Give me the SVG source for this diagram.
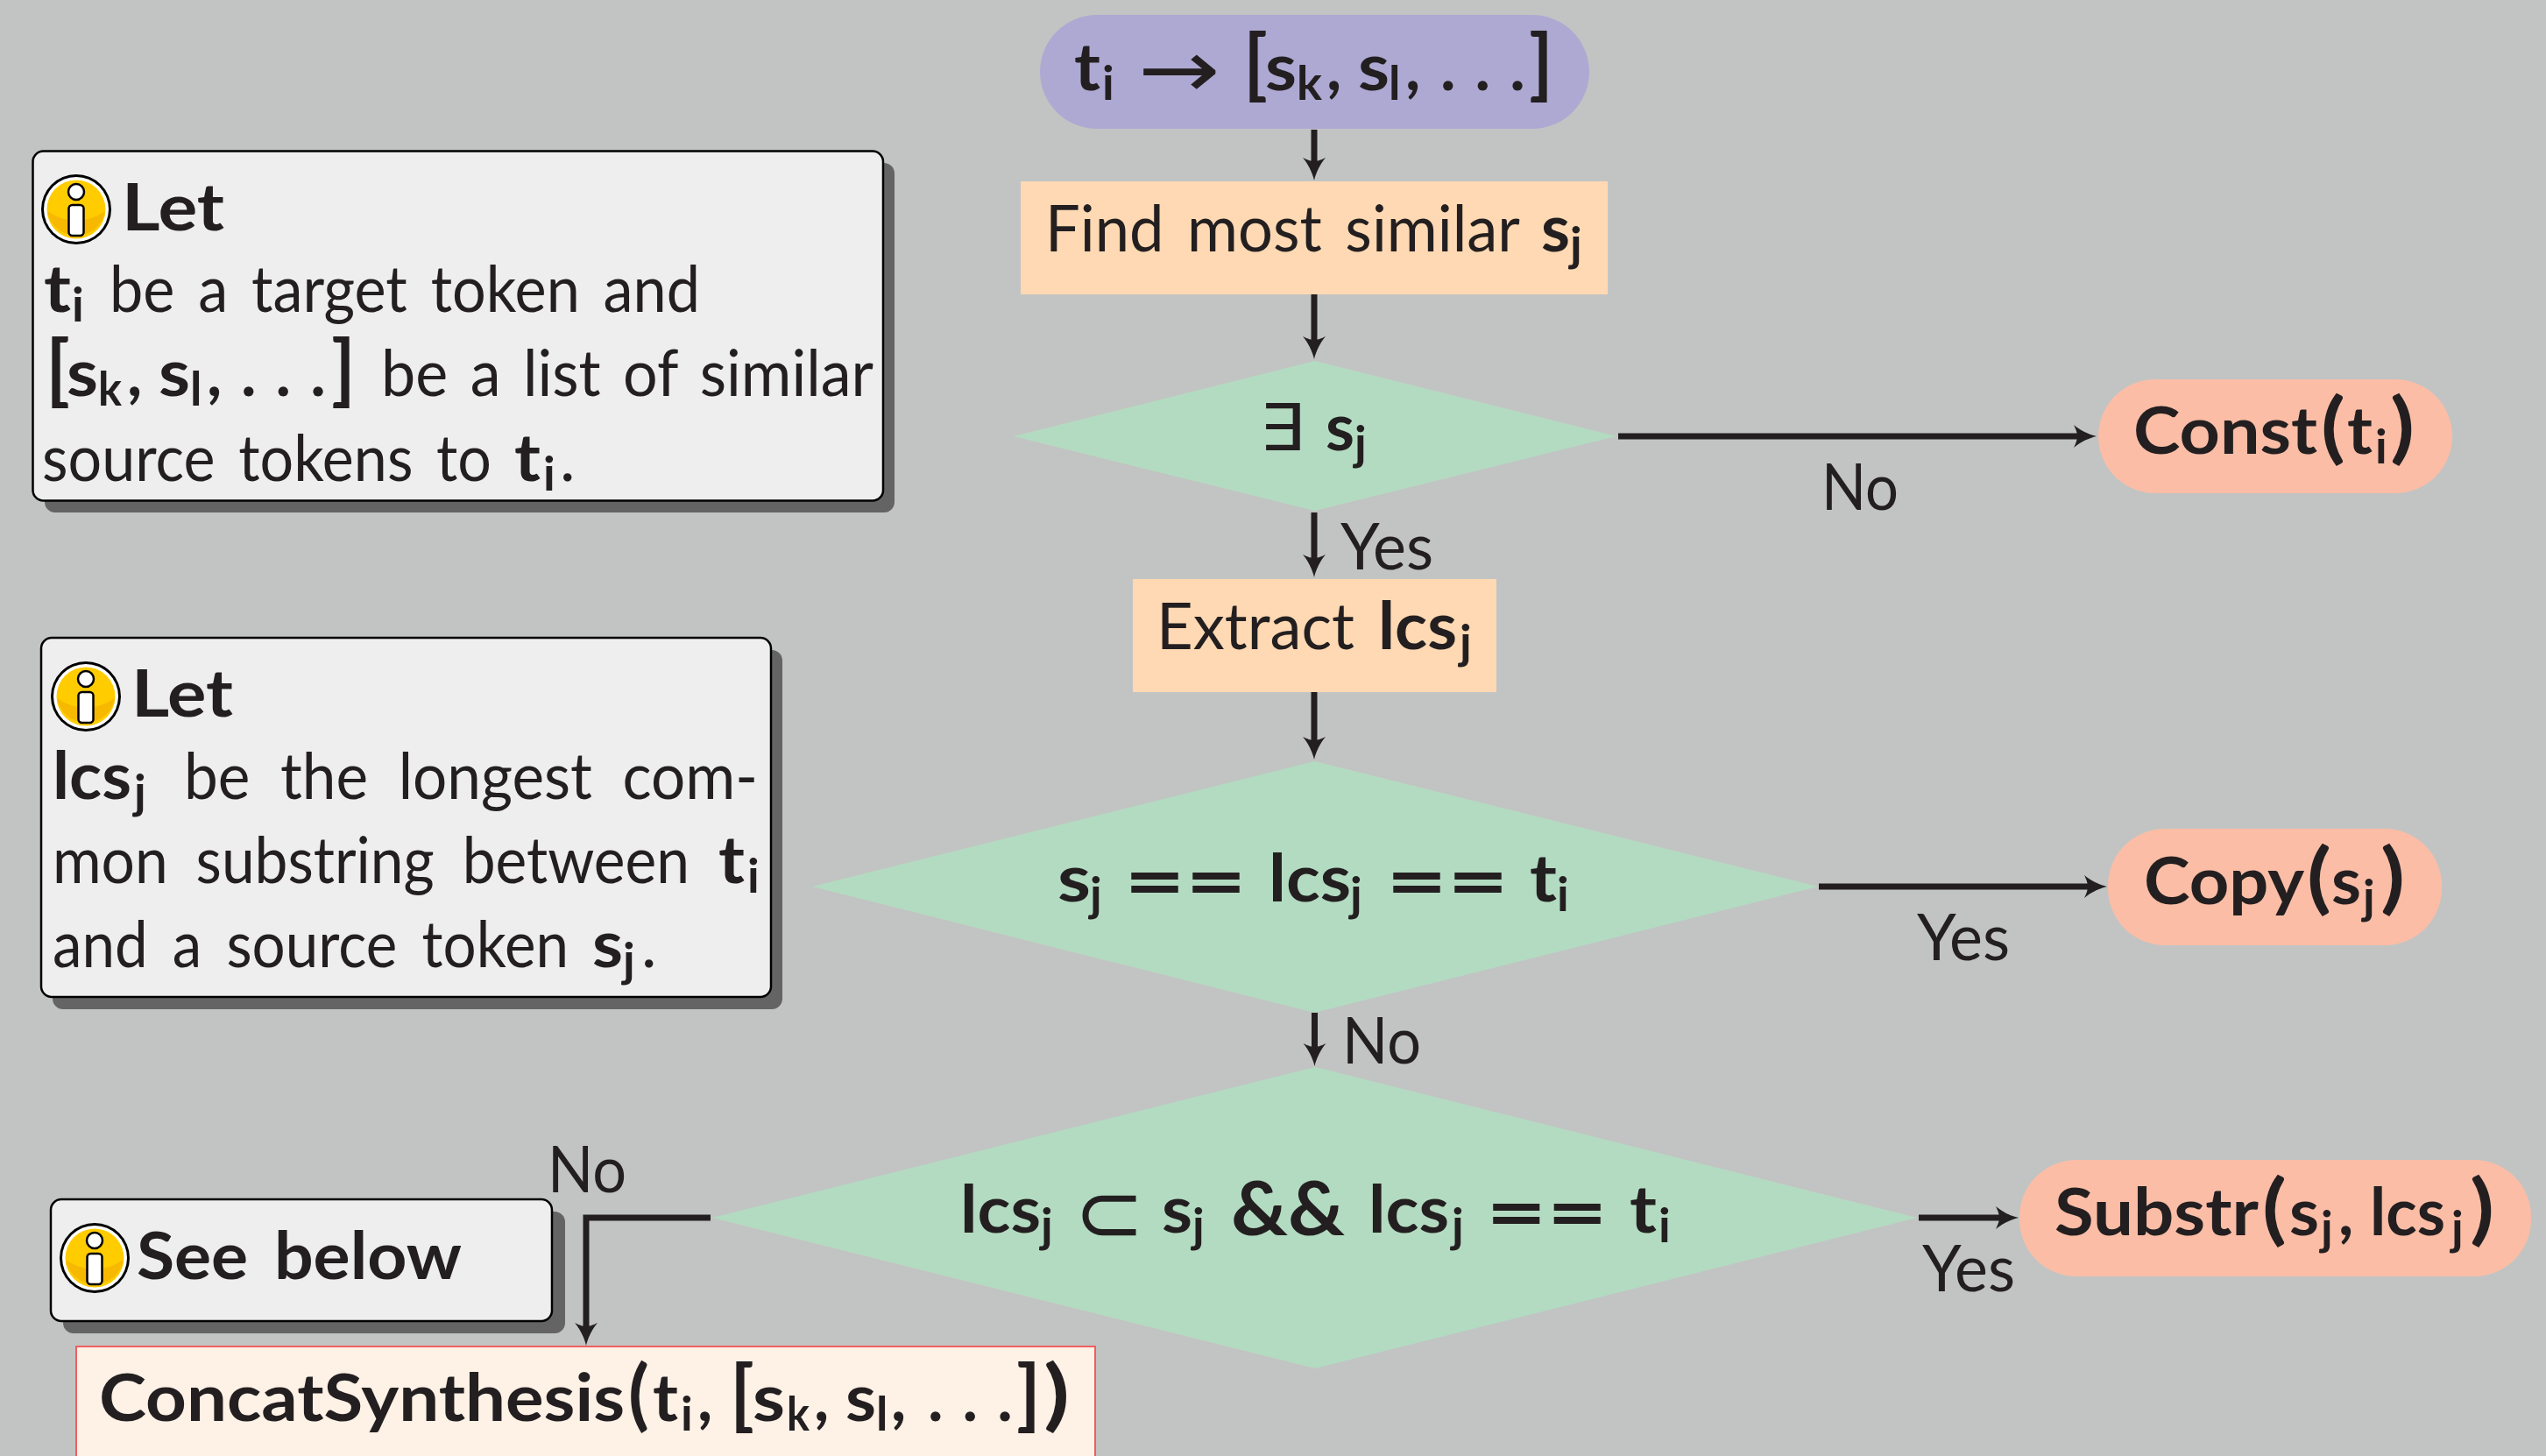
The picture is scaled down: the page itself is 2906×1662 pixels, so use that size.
<svg xmlns="http://www.w3.org/2000/svg" width="2906" height="1662" viewBox="0 0 2906 1662">
<style>
text{font-family:"Lato","DejaVu Sans",sans-serif;font-size:74px;fill:#231f20;white-space:pre}
.b{font-weight:700}
.u{font-size:54px;font-weight:700}
.t{font-size:88px;font-weight:700}
.q{font-size:86px;font-weight:700}
.m{font-family:"DejaVu Sans",sans-serif;font-weight:400}
.conn{fill:none;stroke:#231f20;stroke-width:7;marker-end:url(#arr)}
.dia{fill:#b3dbc1}.proc{fill:#fed9b3}.term{fill:#fbbda6}
.shadow{fill:#636463}.note{fill:#eee;stroke:#000;stroke-width:2.500}
</style>
<defs>
<marker id="arr" viewBox="0 -14 28 28" markerWidth="28" markerHeight="28" refX="15" refY="0" markerUnits="userSpaceOnUse" orient="auto">
<path fill="#231f20" d="M26 0C17 2 7 7 0 13C3 7 4 3 4 0C4-3 3-7 0-13C7-7 17-2 26 0Z"/>
</marker>
<g id="ico">
<circle r="40" fill="#000"/><circle r="37" fill="#fff"/><circle r="33.5" fill="#ffcc00"/>
<path d="M-33 2Q0 24 33 2A33.5 33.5 0 0 1-33 2Z" fill="#f6b900"/>
<circle cy="-20" r="9" fill="#fff" stroke="#000" stroke-width="2.500"/>
<rect x="-8.500" y="-5" width="17" height="35" rx="4" fill="#fff" stroke="#000" stroke-width="2.500"/>
</g>
</defs>
<rect width="2906" height="1662" fill="#c2c4c3"/>
<g id="connectors">
<path class="conn" d="M1500 148V195"/>
<path class="conn" d="M1500 336V399"/>
<path class="conn" d="M1500 585V648"/>
<path class="conn" d="M1500 790V856"/>
<path class="conn" d="M1500.500 1156V1206"/>
<path class="conn" d="M1847 498H2382"/>
<path class="conn" d="M2076 1012H2394"/>
<path class="conn" d="M2190 1390H2293"/>
<path class="conn" d="M811 1390H669V1525"/>
</g>
<g id="edge-labels">
<text x="2079" y="582" textLength="88" lengthAdjust="spacingAndGlyphs">No</text>
<text x="1530" y="650" textLength="106" lengthAdjust="spacingAndGlyphs">Yes</text>
<text x="2188" y="1096" textLength="106" lengthAdjust="spacingAndGlyphs">Yes</text>
<text x="1532" y="1214" textLength="90" lengthAdjust="spacingAndGlyphs">No</text>
<text x="2194" y="1474" textLength="106" lengthAdjust="spacingAndGlyphs">Yes</text>
<text x="625" y="1361" textLength="90" lengthAdjust="spacingAndGlyphs">No</text>
</g>
<g id="start">
<rect x="1187" y="17" width="627" height="130" rx="65" fill="#aea9d3"/>
<text class="b"><tspan x="1226" y="103" textLength="30" lengthAdjust="spacingAndGlyphs">t</tspan><tspan class="u" x="1258" y="114">i</tspan><tspan class="m" x="1299" y="111" textLength="94" lengthAdjust="spacingAndGlyphs" style="font-size:92px">→</tspan><tspan class="t" x="1419" y="103" textLength="28" lengthAdjust="spacingAndGlyphs">[</tspan><tspan x="1444" y="103" textLength="36" lengthAdjust="spacingAndGlyphs">s</tspan><tspan class="u" x="1480" y="114" textLength="29" lengthAdjust="spacingAndGlyphs">k</tspan><tspan x="1514" y="103">,</tspan><tspan x="1550" y="103" textLength="36" lengthAdjust="spacingAndGlyphs">s</tspan><tspan class="u" x="1585" y="114">l</tspan><tspan x="1604" y="103">,</tspan><tspan x="1644" y="103" style="letter-spacing:22px">...</tspan><tspan class="t" x="1745" y="103" textLength="28" lengthAdjust="spacingAndGlyphs">]</tspan></text>
</g>
<g id="find">
<rect class="proc" x="1165" y="207" width="670" height="129"/>
<text><tspan x="1193" y="287" textLength="542" lengthAdjust="spacingAndGlyphs" style="word-spacing:9px">Find most similar</tspan><tspan class="b" x="1759" y="287" textLength="33" lengthAdjust="spacingAndGlyphs">s</tspan><tspan class="u" x="1792" y="298">j</tspan></text>
</g>
<g id="exists">
<polygon class="dia" points="1157,498 1500.500,412 1845,498 1500.500,583"/>
<text><tspan class="m" x="1437" y="514" textLength="52" lengthAdjust="spacingAndGlyphs">∃</tspan><tspan class="b" x="1513" y="514" textLength="33" lengthAdjust="spacingAndGlyphs">s</tspan><tspan class="u" x="1546" y="525">j</tspan></text>
</g>
<g id="const">
<rect class="term" x="2395" y="433" width="404" height="130" rx="65"/>
<text class="b"><tspan x="2435" y="518" textLength="210" lengthAdjust="spacingAndGlyphs">Const</tspan><tspan class="t" x="2649" y="518" textLength="28" lengthAdjust="spacingAndGlyphs">(</tspan><tspan x="2679" y="518" textLength="29" lengthAdjust="spacingAndGlyphs">t</tspan><tspan class="u" x="2711" y="529">i</tspan><tspan class="t" x="2728" y="518" textLength="28" lengthAdjust="spacingAndGlyphs">)</tspan></text>
</g>
<g id="extract">
<rect class="proc" x="1293" y="661" width="415" height="129"/>
<text><tspan x="1320" y="741" textLength="226" lengthAdjust="spacingAndGlyphs">Extract</tspan><tspan class="b" x="1573" y="741" textLength="90" lengthAdjust="spacingAndGlyphs">lcs</tspan><tspan class="u" x="1666" y="752">j</tspan></text>
</g>
<g id="equal">
<polygon class="dia" points="927,1012 1500.500,869 2075,1012 1500.500,1156"/>
<text class="b"><tspan x="1207" y="1029" textLength="38" lengthAdjust="spacingAndGlyphs">s</tspan><tspan class="u" x="1244" y="1040">j</tspan><tspan class="q" x="1283" y="1036" textLength="140" lengthAdjust="spacingAndGlyphs">==</tspan><tspan x="1448" y="1029" textLength="94" lengthAdjust="spacingAndGlyphs">lcs</tspan><tspan class="u" x="1541" y="1040">j</tspan><tspan class="q" x="1582" y="1036" textLength="140" lengthAdjust="spacingAndGlyphs">==</tspan><tspan x="1746" y="1029" textLength="31" lengthAdjust="spacingAndGlyphs">t</tspan><tspan class="u" x="1777" y="1040">i</tspan></text>
</g>
<g id="copy">
<rect class="term" x="2406" y="946" width="381" height="133" rx="65"/>
<text class="b"><tspan x="2447" y="1032" textLength="183" lengthAdjust="spacingAndGlyphs">Copy</tspan><tspan class="t" x="2633" y="1032" textLength="28" lengthAdjust="spacingAndGlyphs">(</tspan><tspan x="2661" y="1032" textLength="34" lengthAdjust="spacingAndGlyphs">s</tspan><tspan class="u" x="2697" y="1043">j</tspan><tspan class="t" x="2717" y="1032" textLength="28" lengthAdjust="spacingAndGlyphs">)</tspan></text>
</g>
<g id="subset">
<polygon class="dia" points="813,1390 1501,1218 2188,1390 1501,1562"/>
<text class="b"><tspan x="1096" y="1407" textLength="92" lengthAdjust="spacingAndGlyphs">lcs</tspan><tspan class="u" x="1188" y="1418">j</tspan><tspan class="m" x="1226" y="1418" textLength="80" lengthAdjust="spacingAndGlyphs" style="font-size:98px">⊂</tspan><tspan x="1326" y="1407" textLength="35" lengthAdjust="spacingAndGlyphs">s</tspan><tspan class="u" x="1361" y="1418">j</tspan><tspan class="q" x="1405" y="1410" textLength="130" lengthAdjust="spacingAndGlyphs">&amp;&amp;</tspan><tspan x="1562" y="1407" textLength="92" lengthAdjust="spacingAndGlyphs">lcs</tspan><tspan class="u" x="1657" y="1418">j</tspan><tspan class="q" x="1696" y="1414" textLength="139" lengthAdjust="spacingAndGlyphs">==</tspan><tspan x="1860" y="1407" textLength="31" lengthAdjust="spacingAndGlyphs">t</tspan><tspan class="u" x="1893" y="1418">i</tspan></text>
</g>
<g id="substr">
<rect class="term" x="2305" y="1324" width="584" height="133" rx="65"/>
<text class="b"><tspan x="2345" y="1410" textLength="233" lengthAdjust="spacingAndGlyphs">Substr</tspan><tspan class="t" x="2582" y="1410" textLength="28" lengthAdjust="spacingAndGlyphs">(</tspan><tspan x="2613" y="1410" textLength="34" lengthAdjust="spacingAndGlyphs">s</tspan><tspan class="u" x="2649" y="1421">j</tspan><tspan x="2669" y="1410">,</tspan><tspan x="2705" y="1410" textLength="86" lengthAdjust="spacingAndGlyphs">lcs</tspan><tspan class="u" x="2798" y="1421">j</tspan><tspan class="t" x="2819" y="1410" textLength="28" lengthAdjust="spacingAndGlyphs">)</tspan></text>
</g>
<g id="concat">
<rect x="87" y="1537" width="1163" height="140" fill="#fef1e6" stroke="#ef5f5f" stroke-width="2"/>
<text class="b"><tspan x="113" y="1622" textLength="600" lengthAdjust="spacingAndGlyphs">ConcatSynthesis</tspan><tspan class="t" x="717" y="1622" textLength="24" lengthAdjust="spacingAndGlyphs">(</tspan><tspan x="745" y="1622" textLength="29" lengthAdjust="spacingAndGlyphs">t</tspan><tspan class="u" x="777" y="1633">i</tspan><tspan x="796" y="1622">,</tspan><tspan class="t" x="833" y="1622" textLength="28" lengthAdjust="spacingAndGlyphs">[</tspan><tspan x="859" y="1622" textLength="37" lengthAdjust="spacingAndGlyphs">s</tspan><tspan class="u" x="898" y="1633" textLength="26" lengthAdjust="spacingAndGlyphs">k</tspan><tspan x="929" y="1622">,</tspan><tspan x="965" y="1622" textLength="35" lengthAdjust="spacingAndGlyphs">s</tspan><tspan class="u" x="1000" y="1633">l</tspan><tspan x="1017" y="1622">,</tspan><tspan x="1059" y="1622" style="letter-spacing:22px">...</tspan><tspan class="t" x="1160" y="1622" textLength="28" lengthAdjust="spacingAndGlyphs">]</tspan><tspan class="t" x="1191" y="1622" textLength="30" lengthAdjust="spacingAndGlyphs">)</tspan></text>
</g>
<g id="note-target">
<rect class="shadow" x="51" y="186" width="970" height="399" rx="12"/>
<rect class="note" x="37.500" y="172.500" width="970.500" height="399" rx="12"/>
<use href="#ico" x="87" y="239"/>
<text class="b" x="139" y="263" textLength="117" lengthAdjust="spacingAndGlyphs">Let</text>
<text><tspan class="b" x="50" y="356" textLength="31" lengthAdjust="spacingAndGlyphs">t</tspan><tspan class="u" x="82" y="367">i</tspan><tspan x="125" y="356" textLength="674" lengthAdjust="spacingAndGlyphs" style="word-spacing:10px">be a target token and</tspan></text>
<text><tspan class="t" x="52" y="452" textLength="28" lengthAdjust="spacingAndGlyphs">[</tspan><tspan class="b" x="76" y="452" textLength="36" lengthAdjust="spacingAndGlyphs">s</tspan><tspan class="u" x="112" y="463" textLength="27" lengthAdjust="spacingAndGlyphs">k</tspan><tspan class="b" x="145" y="452">,</tspan><tspan class="b" x="181" y="452" textLength="36" lengthAdjust="spacingAndGlyphs">s</tspan><tspan class="u" x="217" y="463">l</tspan><tspan class="b" x="236" y="452">,</tspan><tspan class="b" x="275" y="452" style="letter-spacing:22px">...</tspan><tspan class="t" x="378" y="452" textLength="28" lengthAdjust="spacingAndGlyphs">]</tspan><tspan x="435" y="452" textLength="562" lengthAdjust="spacingAndGlyphs" style="word-spacing:8px">be a list of similar</tspan></text>
<text><tspan x="48" y="549" textLength="513" lengthAdjust="spacingAndGlyphs" style="word-spacing:10px">source tokens to</tspan><tspan class="b" x="587" y="549" textLength="30" lengthAdjust="spacingAndGlyphs">t</tspan><tspan class="u" x="620" y="560">i</tspan><tspan x="639" y="549">.</tspan></text>
</g>
<g id="note-lcs">
<rect class="shadow" x="60" y="742" width="833" height="410" rx="12"/>
<rect class="note" x="47" y="728" width="833" height="410" rx="12"/>
<use href="#ico" x="98" y="795"/>
<text class="b" x="150" y="818" textLength="116" lengthAdjust="spacingAndGlyphs">Let</text>
<text><tspan class="b" x="60" y="912" textLength="90" lengthAdjust="spacingAndGlyphs">lcs</tspan><tspan class="u" x="153" y="923">j</tspan><tspan x="210" y="912" textLength="655" lengthAdjust="spacingAndGlyphs" style="word-spacing:18px">be the longest com-</tspan></text>
<text><tspan x="60" y="1008" textLength="727" lengthAdjust="spacingAndGlyphs" style="word-spacing:16px">mon substring between</tspan><tspan class="b" x="820" y="1008" textLength="30" lengthAdjust="spacingAndGlyphs">t</tspan><tspan class="u" x="853" y="1019">i</tspan></text>
<text><tspan x="60" y="1104" textLength="589" lengthAdjust="spacingAndGlyphs" style="word-spacing:12px">and a source token</tspan><tspan class="b" x="676" y="1104" textLength="35" lengthAdjust="spacingAndGlyphs">s</tspan><tspan class="u" x="711" y="1115">j</tspan><tspan x="732" y="1104">.</tspan></text>
</g>
<g id="note-below">
<rect class="shadow" x="72" y="1383" width="573" height="139" rx="12"/>
<rect class="note" x="58" y="1369" width="572" height="139" rx="12"/>
<use href="#ico" x="108" y="1436"/>
<text class="b" x="156" y="1460" textLength="371" lengthAdjust="spacingAndGlyphs" style="word-spacing:10px">See below</text>
</g>
</svg>
